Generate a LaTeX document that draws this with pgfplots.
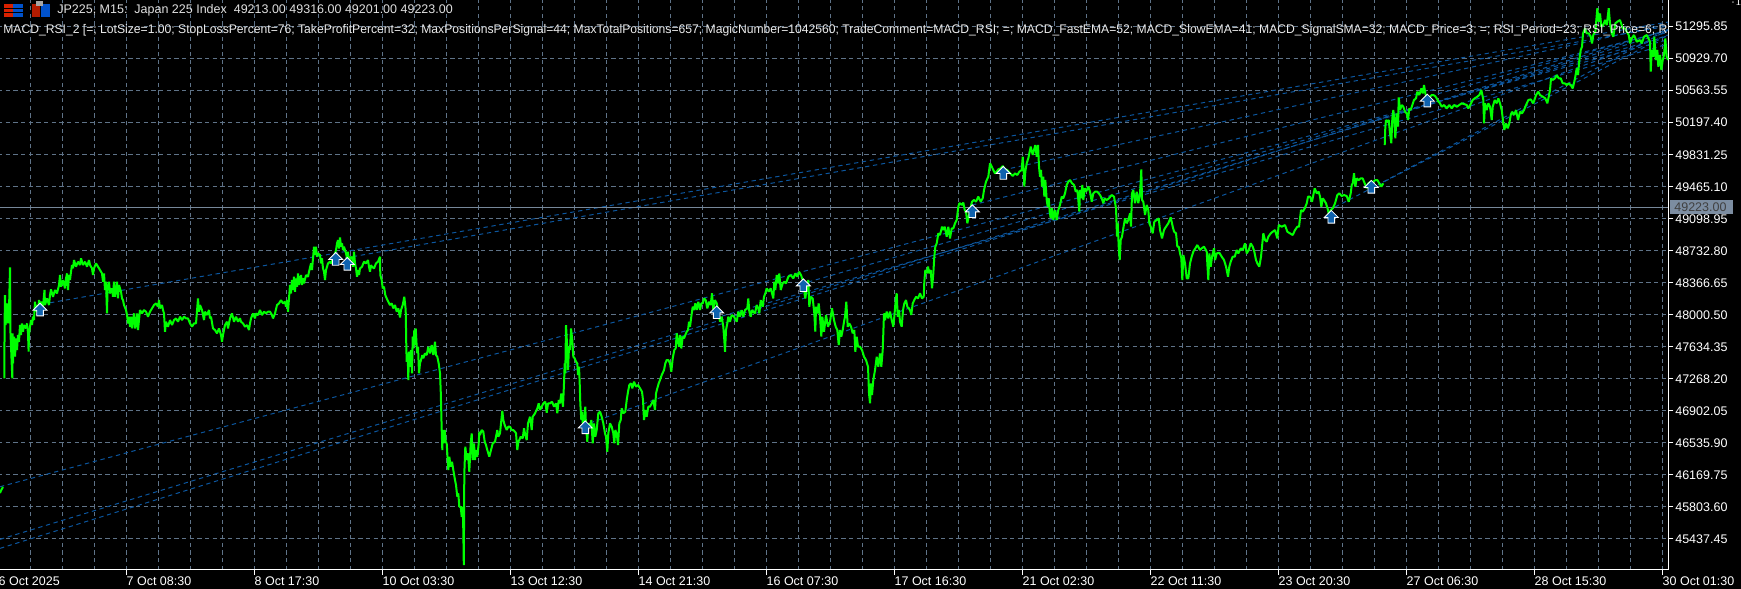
\documentclass[border=0pt]{standalone}
\usepackage{fontspec}
\setmainfont{Liberation Sans}
\usepackage{graphicx}
\usepackage{pgfplots}
\usepackage{pgfplotstable}
\pgfplotsset{compat=1.18}
% one screen pixel = 0.6pt
\definecolor{gridc}{HTML}{5F7388}
\definecolor{blueline}{HTML}{0C569E}
\definecolor{bluearrow}{HTML}{0F62AE}
\definecolor{pricegreen}{HTML}{00FF00}
\definecolor{pricebox}{HTML}{7C8DA1}
\pgfdeclareplotmark{buyarrow}{%
  \pgfpathmoveto{\pgfqpoint{0pt}{4.1pt}}%
  \pgfpathlineto{\pgfqpoint{4.2pt}{-0.1pt}}%
  \pgfpathlineto{\pgfqpoint{2pt}{-0.1pt}}%
  \pgfpathlineto{\pgfqpoint{2pt}{-3.5pt}}%
  \pgfpathlineto{\pgfqpoint{-2pt}{-3.5pt}}%
  \pgfpathlineto{\pgfqpoint{-2pt}{-0.1pt}}%
  \pgfpathlineto{\pgfqpoint{-4.2pt}{-0.1pt}}%
  \pgfpathclose
  \pgfusepathqfillstroke}
\pgfplotsset{trade/.style={blueline,line width=0.6pt,dash pattern=on 2.6pt off 2.2pt}}
\pgfplotstableread{
x y
0 45960
1.5 46000
3 46029
}\tailseg
\pgfplotstableread{
x y
4.3 47272
4.6 47901
5 48225
5.5 47882
6 48054
7 48130
8 47901
9 48054
10 48542
10.5 47787
12.3 47272
12.6 47787
13 47444
14 47749
15 47520
16 47730
17 47596
18 47768
19 47691
20 47882
21 47768
22 47901
23 47806
24 47882
26 47844
27 47901
28 47787
28.6 47577
29 47768
30 47863
31 47939
32 47882
33 47978
34 47939
35 48149
36 48035
37 48111
38 48016
39 48168
40 48092
41 48149
43 48092
44.5 48283
45 48111
47 48187
49 48111
50 48225
51 48290
53 48206
55 48283
57 48244
59 48340
60 48454
61 48321
63 48397
65 48302
66 48416
67 48473
68 48283
69 48454
70 48397
71 48492
72 48569
73 48531
74 48626
76 48550
78 48607
80 48569
81 48645
83 48569
85 48607
87 48550
89 48626
90 48569
92 48531
93 48454
94 48531
96 48588
98 48550
100 48512
102 48473
103 48378
104 48473
105 48283
106 48378
107 48016
107.5 48283
109 48378
110 48244
112 48302
113 48206
114 48378
115 48206
117 48378
118 48187
119 48340
121 48264
122 48187
123 48168
124 48111
126 48054
127 47997
128 47901
129 47978
130 47863
131 47978
132 47844
134 48016
135 47844
136 47882
137 48016
138 47825
140 48054
142 48016
144 48054
146 48035
148 47978
150 48035
152 48073
154 48111
156 48130
158 48092
159 48168
160 48073
162 48111
163 48054
164 48016
165 47806
166 47920
168 47863
170 47939
172 47882
174 47939
176 47958
178 47920
180 47978
182 47939
184 47978
186 47958
188 47958
190 47901
192 47863
194 47901
196 47901
198 48187
199 48035
200 48111
202 48054
204 47939
205 48035
207 47997
209 48054
210 47958
211 47978
213 47844
215 47825
217 47787
219 47844
221 47768
222 47691
223 47768
225 47882
227 47920
228 47844
230 47958
232 48016
234 47920
236 47978
238 47920
240 47960
241 47920
243 47901
245 47863
247 47882
249 47825
250 47901
251 47958
253 48015
255 47958
256 48015
258 47996
260 48054
262 47996
264 48035
266 48015
268 48035
270 48035
272 47996
273 47958
275 48015
277 48111
279 48130
281 48168
283 48130
285 48149
286 48092
287 48168
288 48035
289 48187
290 48340
291 48244
292 48397
293 48282
294 48435
295 48263
296 48416
297 48321
298 48473
299 48340
300 48397
301 48454
302 48340
303 48416
304 48359
306 48454
308 48435
309 48492
311 48588
312 48511
313 48645
314 48778
315 48683
316 48778
317 48664
318 48702
320 48683
321 48588
322 48645
323 48530
324 48492
325 48397
326 48511
328 48588
330 48607
331 48588
333 48645
335 48702
336 48740
337 48816
338 48855
339 48759
340 48885
341 48778
342 48816
343 48740
344 48778
346 48702
347 48645
348 48721
349 48588
350 48664
351 48645
352 48664
353 48549
354 48721
355 48588
356 48530
357 48435
358 48511
359 48454
360 48530
362 48549
364 48607
366 48588
368 48626
369 48549
370 48492
371 48568
372 48549
374 48530
376 48588
378 48607
380 48664
380.3 48454
381.7 48397
382.7 48302
384 48321
385.3 48225
386.7 48187
388.3 48149
390 48111
391.7 48130
393.3 48073
395 48111
396.7 48035
398.3 48073
400 47970
401 48054
402.7 48111
404.3 48206
405.7 48054
406.3 47634
406.7 47462
407.7 47558
408.3 47253
409 47577
410 47405
411 47596
412 47329
412.7 47748
413.3 47615
414.3 47825
415 47653
415.7 47844
416.7 47634
417.3 47558
418 47634
419 47329
420 47443
421 47482
422.3 47539
423.3 47501
425 47558
426.7 47539
428.3 47634
430 47558
431.7 47653
433.3 47539
435 47691
436 47539
437.3 47520
438.7 47443
440 47329
440.7 47138
441.3 46871
441.7 46681
442.3 46452
442.7 46681
443.7 46528
444.7 46681
445.7 46547
446.7 46528
447.7 46337
448.3 46223
449.3 46376
450.7 46261
452 46318
453.3 46223
455 46109
456 46051
457.3 45918
458.3 45956
459.3 45803
460.7 45803
461.7 45689
462.7 45803
463.3 45536
463.8 45136
464.3 46185
465.3 46490
466.7 46337
468 46414
469.3 46204
470.7 46528
471.7 46642
472.7 46337
474 46528
475 46337
476 46452
477.3 46376
478.7 46528
479.3 46662
480 46624
481.7 46681
483.3 46662
484.7 46547
486 46509
487.3 46452
489.3 46376
491 46452
492.7 46528
495 46547
497.3 46681
498.3 46605
500 46643
501 46757
502.3 46902
503.3 46795
504.7 46738
506.7 46681
508.3 46719
510 46719
511.7 46681
513.3 46681
515 46662
516 46643
517.3 46452
518.3 46547
519.3 46566
520.7 46605
522.7 46586
524 46700
525.3 46624
526.7 46566
528 46757
530 46833
531.7 46681
532.7 46833
535 46872
537.3 46929
538.7 46986
540 46910
541.7 46948
543.3 46986
545.3 47005
546.7 46879
548 46986
550 46986
552 47005
554 46948
556 46986
557.3 46872
558.7 47024
560 46986
561.3 47100
563 46948
564 47215
564.7 47444
565.3 47329
566 47882
567 47673
568 47367
569 47634
570 47596
571 47844
572.3 47711
573.3 47520
574.7 47501
576 47463
577.3 47444
578 47310
579 47405
579.7 47215
580.3 46986
581.3 46795
582 46891
583 46719
584.3 46833
585.3 46948
586 46719
587.3 46547
588.3 46757
590 46719
591.3 46795
592.7 46528
594 46757
595.3 46605
596.7 46681
598.3 46872
600 46891
601.7 46833
603.3 46757
605 46643
606 46605
607.3 46433
608.3 46643
610 46757
611.7 46719
613.3 46643
614.3 46528
615.3 46681
616.7 46643
618 46509
619.3 46757
620.7 46795
621.7 46929
623.3 46872
625.3 46891
626.7 47024
628 47119
629.3 47196
631 47215
632.3 47158
634 47234
636 47177
638 47196
640 47158
642 47119
643 47024
644 46795
645.3 46910
646.7 46833
648.3 46948
650 46948
651.7 46986
653.3 47024
655 46910
656 47100
657.3 47158
658.7 47215
660 47253
661.7 47310
664 47367
665.3 47444
666.7 47482
668.3 47482
670 47444
671.3 47348
672.7 47501
674.3 47596
675.7 47615
676.7 47787
678 47692
679 47634
680 47768
681.3 47615
682.7 47749
684 47730
685.3 47768
686.7 47806
688 47825
689 47920
690 47863
691.3 47978
692.7 48092
694 48054
695.3 48130
696.7 48054
698.3 48149
700 48054
701.3 48130
702.7 48130
704 48187
705.7 48168
707.3 48073
709 48149
710.7 48111
712 48245
713.3 48054
715 48168
716.7 48130
718.7 48016
720 47920
721.7 47978
723.3 47863
724.3 47711
725 47577
726 47825
727.3 47901
728.3 47978
730 47920
731.7 47997
734 47978
736.7 47920
738.3 48035
740 47978
741.7 48054
743.3 47978
745 48054
747.3 48073
748.3 48187
749.3 48035
750.7 47978
752 48054
753.3 48035
755 48016
756.7 48111
758.3 48073
759.3 48016
760.7 48168
762.7 48092
764 48206
765.3 48245
766.7 48302
768.7 48264
770.7 48302
773.3 48187
774.3 48378
775.3 48283
776.7 48454
778.3 48359
779.3 48473
780.7 48283
782.7 48359
784.3 48378
786 48359
788.3 48435
790.7 48454
793.3 48416
795.3 48473
797.3 48435
799 48492
801 48454
802.7 48397
804.3 48264
805.3 48187
806.7 48302
808.3 48397
809.3 48092
810.7 48206
812.7 48187
814.3 48016
815.3 47806
816 48092
817.3 48016
818.7 48130
820 47978
821.3 47749
822.3 47978
824 47806
826 47997
828 47863
830 47920
832 48073
834 47939
835.7 47863
837.3 47825
838.7 47653
840 47825
841.3 47749
842.7 47825
844 47920
845 47978
846.3 48149
847.7 47863
849.3 47901
851 47863
852.7 47787
854.3 47825
855.3 47577
856.7 47749
858 47634
860 47634
862 47596
864 47520
866 47482
868 47405
869 47100
870 46986
871 47215
872 47081
873.3 47253
875 47367
876.7 47520
878.3 47405
880 47558
881.3 47405
882.7 47596
884 48016
885 47939
886.7 48035
888.3 47959
890 48035
891.7 47939
893.3 47863
894.3 47978
895.7 48168
896.7 48245
897.7 47978
899 48054
900 47920
901.7 47863
903 48054
904.3 48130
906 48168
907.3 48092
908.7 48073
910 48054
911.3 47997
912.7 48130
914.3 48168
916 48206
918 48187
920 48245
922 48187
923.7 48206
924.3 48378
925.3 48512
926.7 48473
928 48550
929.3 48473
930.7 48512
932 48302
933.3 48473
934.3 48664
935.3 48778
936.7 48817
938.3 48931
940 48912
942 49007
943.3 48969
944.7 49007
946.7 48893
948.3 49007
950 48874
951.7 48988
953.3 48988
955 49046
956.7 49084
958.3 49236
959.3 49274
960 49275
961.7 49256
963.3 49283
964.7 49199
966 49180
967.3 49046
968.7 49122
970 49199
972 49294
974 49313
976 49294
978.3 49351
980.7 49294
982.7 49332
984 49427
986 49523
988.3 49580
990 49733
991.7 49695
993.3 49656
995 49618
996.7 49637
998.3 49664
1000.7 49675
1002.7 49702
1005 49664
1007.3 49656
1010 49618
1012.7 49588
1015 49618
1017.3 49599
1019.3 49637
1021.7 49656
1022.7 49809
1023.7 49637
1024.3 49466
1025.3 49637
1026.7 49733
1028.3 49790
1029.3 49847
1030.7 49923
1032.7 49828
1034 49885
1035.3 49942
1036.7 49809
1038 49942
1039 49694
1040 49580
1041 49656
1042 49466
1043.3 49580
1044.3 49351
1045.3 49542
1046.7 49313
1047.7 49237
1048.7 49332
1049.7 49180
1050.7 49103
1052 49218
1053.3 49084
1055 49199
1056.7 49084
1058.3 49199
1060 49256
1061.7 49351
1063.3 49332
1065 49389
1066.7 49485
1068.3 49523
1070 49542
1072 49504
1074 49485
1075.7 49408
1077.3 49427
1078.3 49313
1079.3 49180
1080 49427
1081.3 49332
1082.3 49485
1083.3 49313
1084.7 49447
1086 49408
1088.3 49466
1090 49408
1091.7 49294
1093.3 49389
1095 49408
1097.3 49408
1100 49370
1101.7 49332
1103.3 49275
1104.7 49332
1106.7 49313
1109 49332
1111.7 49370
1114 49351
1116 49218
1117 48894
1117.7 49046
1118.7 48779
1119.7 48627
1120.7 48855
1122 48894
1123.3 48989
1125 49103
1126.7 49046
1128.3 49084
1130 49160
1131 49008
1132 49389
1133.3 49427
1135 49275
1136.7 49408
1138.3 49275
1140 49389
1141.3 49664
1142 49313
1143.3 49294
1145 49141
1146.7 49256
1148.3 49199
1149.3 49046
1150.7 49008
1152.7 48932
1154.3 49065
1156.7 49084
1158.7 49103
1160 48970
1162 48874
1164 48970
1166 49008
1168.3 49046
1170.7 49115
1172.7 49008
1174 48951
1176 48932
1177.3 48779
1178.7 48779
1180 48703
1181.3 48646
1182.3 48398
1183.3 48684
1185 48588
1186.7 48417
1188.3 48417
1190 48588
1191.7 48665
1193.3 48722
1195.3 48760
1197.3 48798
1200 48740
1201.7 48760
1204 48779
1206.7 48721
1207.3 48588
1208.3 48397
1209.3 48702
1210.7 48550
1212 48664
1214 48760
1215 48626
1216.7 48702
1219.3 48710
1221.7 48664
1224 48626
1226 48550
1228 48435
1229.3 48550
1230.7 48607
1232.7 48664
1234.7 48664
1236.7 48740
1238.3 48702
1240.7 48760
1242.7 48740
1245 48817
1246.7 48702
1248.7 48740
1250.7 48817
1252.7 48779
1254.3 48721
1256 48626
1257.3 48588
1259.3 48550
1261 48664
1262.3 48817
1263.3 48931
1265 48855
1266.7 48836
1268.3 48893
1270.7 48931
1272.7 48950
1275 48969
1277.3 48874
1278.7 49026
1281.7 49007
1285 49026
1287.3 48950
1290 48931
1292.7 48912
1295 48969
1297.3 49007
1299 49007
1300 49103
1301 49198
1302.7 49179
1304.7 49217
1306.7 49274
1308 49351
1310 49351
1312 49293
1313.3 49370
1314.7 49446
1316.7 49389
1318.7 49408
1320 49351
1321.3 49236
1322.7 49332
1324 49313
1326 49274
1328 49198
1329.3 49122
1330.7 49198
1332.7 49217
1335 49274
1337.3 49370
1339.3 49389
1341.7 49358
1344 49370
1346.7 49358
1348.7 49293
1350.7 49389
1351.7 49484
1352.7 49503
1354 49618
1355.3 49465
1356.7 49560
1358.7 49541
1360.7 49560
1362.7 49560
1364.7 49503
1366.7 49446
1368.3 49503
1370.7 49522
1373.3 49522
1375.3 49541
1377.3 49541
1379.3 49503
1381.3 49465
1383.3 49503
}\midseg
\pgfplotstableread{
x y
1384.7 49942
1385.3 50152
1386 50228
1387.3 50209
1388.7 50228
1390 50075
1391.3 49961
1392.3 50247
1393.3 50342
1394.3 50228
1395.3 50018
1396.7 50304
1398 50152
1398.7 50487
1400 50342
1401.7 50400
1403.3 50380
1405 50323
1406.7 50304
1408 50228
1409.3 50361
1410.7 50342
1412.3 50400
1414 50457
1416 50476
1417.3 50552
1419.3 50514
1421.3 50590
1422.7 50533
1424 50628
1425.3 50533
1426.7 50476
1428.3 50476
1430 50495
1431.7 50514
1433.3 50514
1435 50503
1436.7 50476
1438.3 50438
1440 50419
1441.7 50380
1444 50400
1446.7 50361
1449.3 50400
1451.7 50361
1454 50400
1456.7 50380
1459.3 50400
1461.7 50419
1464 50411
1466.7 50400
1468.3 50361
1470.7 50411
1472.7 50457
1474.7 50476
1477.3 50495
1479.3 50514
1481.3 50571
1482.7 50495
1483.3 50457
1484 50190
1485 50419
1486.7 50342
1488.3 50419
1490 50380
1491.7 50228
1492.7 50380
1494.7 50457
1496.7 50419
1498.3 50476
1500 50419
1501.7 50342
1503.3 50190
1504.3 50114
1506 50190
1507.7 50133
1509.3 50190
1510.7 50285
1512 50323
1514 50285
1516 50342
1518 50228
1520 50323
1522 50304
1524 50342
1526 50400
1528.3 50457
1530.7 50464
1533.3 50419
1536 50514
1538.3 50552
1540 50514
1542.7 50495
1545.3 50476
1547.3 50419
1548.7 50495
1550 50571
1551 50705
1552.7 50686
1555 50705
1556.7 50743
1558.7 50705
1560.7 50705
1562.7 50648
1564.7 50648
1566.7 50628
1568.7 50648
1570.7 50628
1572.7 50590
1574.7 50686
1576.7 50819
1578 50743
1579.3 50915
1580.7 51029
1582 51067
1583 51220
1585 51277
1586.7 51220
1588.7 51220
1590.7 51181
1592 51105
1593.3 51201
1595.3 51239
1597.3 51506
1598.7 51353
1600 51448
1601.3 51296
1603.3 51315
1605 51372
1606.7 51315
1608.7 51506
1610 51334
1611.7 51220
1613.3 51181
1615.3 51334
1617.3 51353
1620 51372
1622.7 51277
1625 51277
1626.7 51239
1628.7 51201
1630 51105
1631.7 51162
1634 51201
1636.7 51124
1640 51143
1641.7 51105
1644 51181
1646.7 51201
1648.3 51162
1650 51124
1650.7 50781
1651.7 51029
1653.3 50953
1654.3 51181
1655.7 50915
1657.3 51029
1658.3 50838
1660 50972
1661.3 50800
1662.7 50915
1664 50972
1665.3 51162
1666.7 50953
1668 50915
}\endseg
\begin{document}
\begin{tikzpicture}
\path[use as bounding box,fill=black] (0,0) rectangle (1044.6pt,353.4pt);
\begin{axis}[
    at={(-1.2pt,11.4pt)}, anchor=south west, scale only axis,
    width=1002.18pt, height=342pt,
    xmin=-2, xmax=1668.3, ymin=45079.4, ymax=51601.4,
    axis x line=bottom, axis y line=right,
    axis line style={white,line width=0.6pt,-},
    clip=true, clip mode=individual,
    tick align=outside, major tick length=3pt, minor tick length=0pt,
    major tick style={white,line width=0.6pt},
    xtick={-1.7,126.3,254.3,382.3,510.3,638.3,766.3,894.3,1022.3,1150.3,1278.3,1406.3,1534.3,1662.3},
    xticklabels={6 Oct 2025,7 Oct 08:30,8 Oct 17:30,10 Oct 03:30,13 Oct 12:30,14 Oct 21:30,16 Oct 07:30,17 Oct 16:30,21 Oct 02:30,22 Oct 11:30,23 Oct 20:30,27 Oct 06:30,28 Oct 15:30,30 Oct 01:30},
    minor xtick={30.3,62.3,...,1662.3},
    ytick={45437.45,45803.60,46169.75,46535.90,46902.05,47268.20,47634.35,48000.50,48366.65,48732.80,49098.95,49465.10,49831.25,50197.40,50563.55,50929.70,51295.85},
    yticklabels={45437.45,45803.60,46169.75,46535.90,46902.05,47268.20,47634.35,48000.50,48366.65,48732.80,49098.95,49465.10,49831.25,50197.40,50563.55,50929.70,51295.85},
    grid=both,
    major grid style={gridc,line width=0.6pt,dash pattern=on 2.6pt off 2pt},
    minor grid style={gridc,line width=0.6pt,dash pattern=on 2.6pt off 2pt},
    x tick label style={font=\fontsize{7.5}{9}\selectfont,text=white,anchor=north west,inner xsep=0pt,inner ysep=1pt},
    y tick label style={font=\fontsize{7.5}{9}\selectfont,text=white,anchor=west,inner xsep=1pt},
]
% closing lines of the trades
\addplot[trade] coordinates {(50,48137) (1668,51349)};
\addplot[trade] coordinates {(345,48649) (1668,51303)};
\addplot[trade] coordinates {(1003,49656) (1668,51326)};
\addplot[trade] coordinates {(972,49255) (1668,51246)};
\addplot[trade] coordinates {(0,46032) (1668,51147)};
\addplot[trade] coordinates {(0,45430) (1668,51235)};
\addplot[trade] coordinates {(0,45327) (1668,51263)};
\addplot[trade] coordinates {(590,46761) (1668,51201)};
\addplot[trade] coordinates {(722,47985) (1668,51098)};
\addplot[trade] coordinates {(808,48374) (1668,51189)};
\addplot[trade] coordinates {(1335,49232) (1668,51201)};
\addplot[trade] coordinates {(1383,49519) (1668,51258)};
\addplot[trade] coordinates {(1430,50503) (1668,51258)};
% last price
\addplot[gridc!85!white,line width=0.6pt] coordinates {(-2,49223) (1668.3,49223)};
% price
\addplot[pricegreen,line width=1.2pt,line join=bevel] table {\tailseg};
\addplot[pricegreen,line width=1.2pt,line join=bevel] table {\midseg};
\addplot[pricegreen,line width=1.2pt,line join=bevel] table {\endseg};
% buy arrows
\addplot[only marks,mark=buyarrow,mark options={fill=bluearrow,draw=white,line width=0.5pt}] coordinates {
(40,48054) (335.7,48634) (347.3,48577) (585.3,46707) (716.7,48023) (803.3,48332)
(972.3,49179) (1003.3,49618) (1331.3,49115) (1371.3,49458) (1427.3,50445)};
\end{axis}
% header, in pixel rows from the top
\begin{scope}[x=0.6pt,y=-0.6pt,yshift=353.4pt]
\fill[pricebox] (1670,200) rectangle (1733,214);
\node[anchor=west,inner sep=0pt,text=black!75,font=\fontsize{7.5}{9}\selectfont] at (1674,207.5) {49223.00};
\fill[red!70!orange!85!black] (4,4) rectangle (13,17);
\fill[blue!60!cyan!80!black] (13,4) rectangle (23,17);
\draw[black,line width=0.5pt] (4,8) -- (23,8) (4,12.5) -- (23,12.5);
\fill[red!70!orange!70!black] (32,4) rectangle (40,17);
\fill[blue!60!cyan!80!black] (41,4) rectangle (50,17);
\fill[gray!70] (36,1.5) rectangle (43,6);
\node[anchor=west,inner sep=0pt,text=white!88!black,font=\fontsize{7.5}{9}\selectfont] at (57,10.5) {JP225, M15:\ \ Japan 225 Index\ \ 49213.00 49316.00 49201.00 49223.00};
\clip (0,0) rectangle (1668,60);
\node[anchor=west,inner sep=0pt,text=white!92!black,font=\fontsize{7.5}{9}\selectfont] at (3,30.5) {\scalebox{0.972}[1]{MACD\_RSI\_2 [=; LotSize=1.00; StopLossPercent=76; TakeProfitPercent=32; MaxPositionsPerSignal=44; MaxTotalPositions=657; MagicNumber=1042560; TradeComment=MACD\_RSI; =; MACD\_FastEMA=52; MACD\_SlowEMA=41; MACD\_SignalSMA=32; MACD\_Price=3; =; RSI\_Period=23; RSI\_Price=6; R}};
\end{scope}
\end{tikzpicture}
\end{document}
